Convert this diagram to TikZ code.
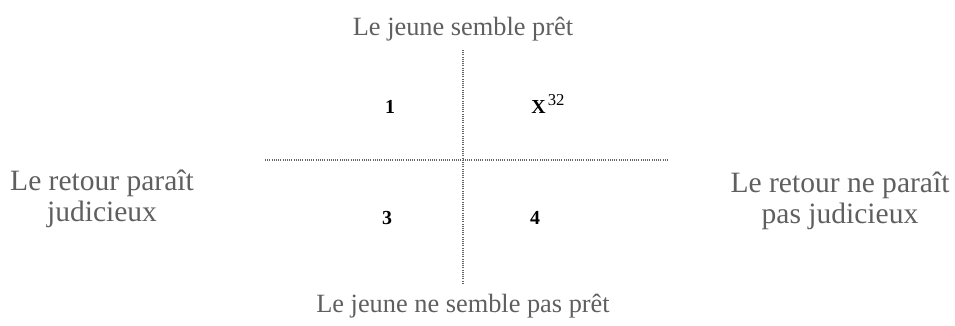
\documentclass[tikz,border=0pt]{standalone}
\usepackage{fontspec}
\setmainfont{Liberation Serif}
\usepackage{xcolor}
\usepackage{tikz}
\usetikzlibrary{positioning}
\definecolor{labelgray}{HTML}{5F5F5F}

\begin{document}
\begin{tikzpicture}[x=0.02cm, y=-0.02cm,
  axislbl/.style={text=labelgray, font=\fontsize{15}{17.5}\selectfont, align=center, inner sep=0pt},
  sidelbl/.style={axislbl, font=\fontsize{16.8}{17.8}\selectfont},
  quad/.style={font=\fontsize{11.3}{13}\selectfont\bfseries, inner sep=0pt, anchor=base},
  axis/.style={draw=black!60, dash pattern=on 0.5pt off 0.75pt, line width=0.7pt}]
  \useasboundingbox (0,0) rectangle (955,325);
  % axes
  \coordinate (vtop) at (463,50);
  \coordinate (vbot) at (463,283);
  \coordinate (hleft) at (265,160);
  \coordinate (hright) at (667,160);
  \draw[axis] (vtop) -- (vbot);
  \draw[axis] (hleft) -- (hright);
  % axis labels
  \node[axislbl] (ready) at (463,29) {Le jeune semble prêt};
  \node[axislbl] (notready) at (463,306) {Le jeune ne semble pas prêt};
  \node[sidelbl] (wise) at (102,199) {Le retour paraît\\judicieux};
  \node[sidelbl] (notwise) at (840,201) {Le retour ne paraît\\pas judicieux};
  % quadrants
  \node[quad] (q1) at (390,113) {1};
  \node[quad, anchor=base west] (q2) at (531,113)
    {X\hspace{1.2pt}\raisebox{4.5pt}{\fontsize{9.5}{10}\selectfont\mdseries 32}};
  \node[quad] (q3) at (387,224) {3};
  \node[quad] (q4) at (535,224) {4};
\end{tikzpicture}
\end{document}
